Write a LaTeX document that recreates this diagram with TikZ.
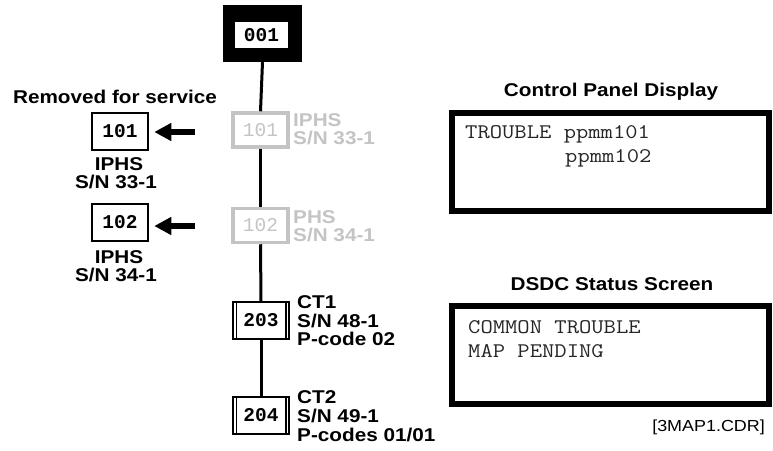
\documentclass[tikz,border=0pt]{standalone}
\usepackage{fontspec}
\setmainfont{Liberation Sans}
\newfontfamily\lblfont[FakeStretch=1.12]{Liberation Sans}
\newfontfamily\codefont{Liberation Mono}
\setmonofont[FakeStretch=1.15]{Latin Modern Mono}
\usetikzlibrary{arrows.meta}
\definecolor{ghost}{HTML}{C4C4C4}
\begin{document}
\begin{tikzpicture}[x=1pt,y=-1pt,
  lbl/.style={font=\lblfont\bfseries\fontsize{18.5}{19}\selectfont, inner sep=0pt},
  glbl/.style={lbl, text=ghost},
  small/.style={font=\lblfont\fontsize{16}{17}\selectfont, inner sep=0pt},
  boxcode/.style={font=\codefont\bfseries\fontsize{19.5}{20}\selectfont},
  screen/.style={font=\ttfamily\fontsize{20.8}{22}\selectfont, inner sep=0pt, anchor=base west, text=black!85},
  devbox/.style={draw=black, line width=2.5pt, fill=white, minimum width=56pt, minimum height=37pt, inner sep=0pt, boxcode},
  ghostbox/.style={draw=ghost, line width=3.5pt, fill=white, minimum width=55pt, minimum height=34pt, inner sep=0pt, font=\codefont\fontsize{19.5}{20}\selectfont, text=ghost},
  dblbox/.style={draw=black, line width=1.5pt, fill=white, minimum width=56pt, minimum height=37pt, inner sep=0pt, boxcode},
  trunk/.style={line width=3pt, black},
  bigarrow/.style={line width=6pt, -{Triangle[length=17pt,width=17pt]}, shorten >=5pt},
  panel/.style={draw=black, line width=6pt}
]
\useasboundingbox (0,0) rectangle (773,450);

% top controller box
\node[fill=black, minimum width=79pt, minimum height=57pt, inner sep=0pt] (n001) at (262.5,33.5) {};
\node[fill=white, minimum width=53pt, minimum height=26pt, inner sep=0pt, boxcode] (n001t) at (261.5,35) {001};

% trunk devices
\node[ghostbox] (g101) at (260.5,130) {101};
\node[ghostbox] (g102) at (260.5,225.5) {102};
\node[dblbox] (b203) at (261,320.5) {203};
\node[dblbox] (b204) at (261,415.5) {204};

\draw[trunk] (n001.south) -- (g101.north);
\draw[trunk] (g101.south) -- (g102.north);
\draw[trunk] (g102.south) -- (b203.north);
\draw[trunk] (b203.south) -- (b204.north);

\foreach \b in {b203,b204}{
  \draw[line width=1.5pt] ([xshift=4pt]\b.north west) -- ([xshift=4pt]\b.south west);
  \draw[line width=1.5pt] ([xshift=-4pt]\b.north east) -- ([xshift=-4pt]\b.south east);
}

% ghost labels
\node[glbl, anchor=base west] (gl1a) at (293,126) {IPHS};
\node[glbl, anchor=base west] (gl1b) at (293,144) {S/N 33-1};
\node[glbl, anchor=base west] (gl2a) at (293,223) {PHS};
\node[glbl, anchor=base west] (gl2b) at (293,241) {S/N 34-1};

% CT labels
\node[lbl, anchor=base west] (c3a) at (297,308) {CT1};
\node[lbl, anchor=base west] (c3b) at (297,327) {S/N 48-1};
\node[lbl, anchor=base west] (c3c) at (297,345) {P-code 02};
\node[lbl, anchor=base west] (c4a) at (297,403) {CT2};
\node[lbl, anchor=base west] (c4b) at (297,422) {S/N 49-1};
\node[lbl, anchor=base west] (c4c) at (297,441) {P-codes 01/01};

% removed devices
\node[lbl, anchor=base] (rem) at (115,103) {Removed for service};
\node[devbox] (r101) at (120,131.5) {101};
\node[devbox] (r102) at (120,222.5) {102};
\coordinate (a1) at (195,132);
\coordinate (a2) at (195,226);
\draw[bigarrow] (a1) -- (a1 -| r101.east);
\draw[bigarrow] (a2) -- (a2 -| r102.east);
\node[lbl, anchor=base] (r1a) at (119,170) {IPHS};
\node[lbl, anchor=base] (r1b) at (116,188) {S/N 33-1};
\node[lbl, anchor=base] (r2a) at (119,263) {IPHS};
\node[lbl, anchor=base] (r2b) at (116,281) {S/N 34-1};

% control panel display
\node[lbl, anchor=base] (t1) at (611,96) {Control Panel Display};
\draw[panel] (452,113) rectangle (769,211);
\node[screen] (s1a) at (465,138) {TROUBLE ppmm101};
\node[screen] (s1b) at (565,162) {ppmm102};

% DSDC status screen
\node[lbl, anchor=base] (t2) at (612,290) {DSDC Status Screen};
\draw[panel] (452,306) rectangle (769,404);
\node[screen] (s2a) at (468,333) {COMMON TROUBLE};
\node[screen] (s2b) at (468,357) {MAP PENDING};

\node[small, anchor=base east] (ref) at (765,431) {[3MAP1.CDR]};
\end{tikzpicture}
\end{document}
